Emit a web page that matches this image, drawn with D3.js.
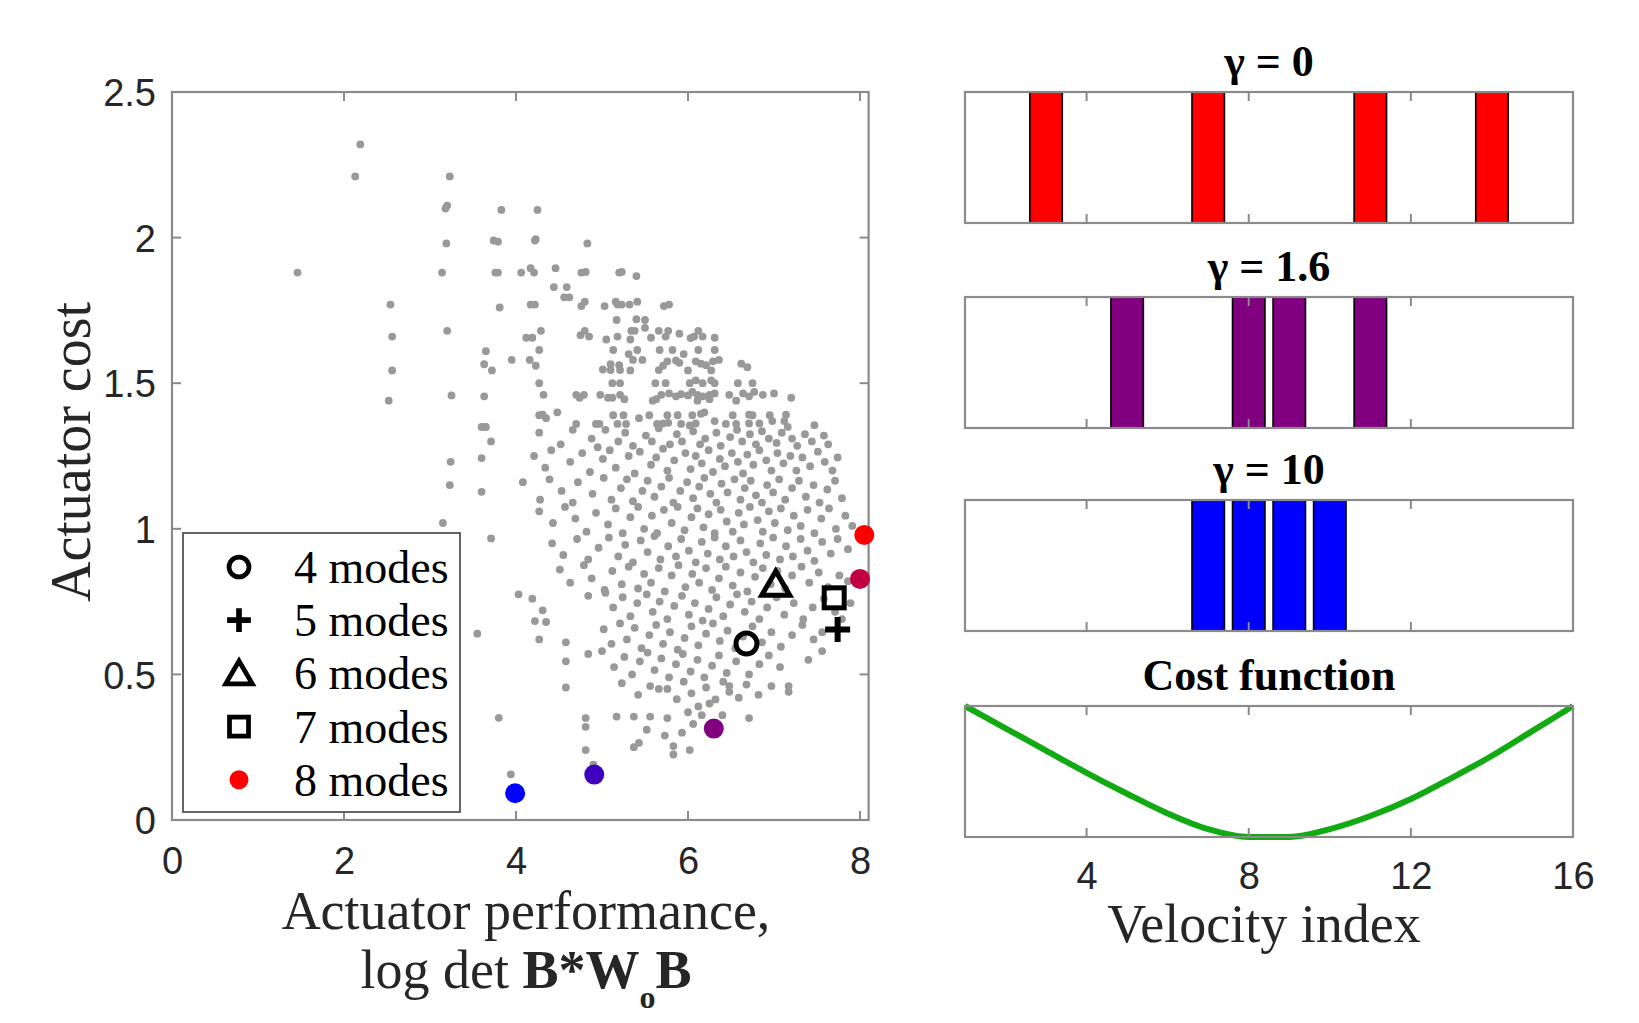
<!DOCTYPE html>
<html><head><meta charset="utf-8">
<script src="https://cdn.jsdelivr.net/npm/d3@7"></script>
<style>body{margin:0;background:#fff}svg{display:block}</style>
</head><body><svg id="c" width="1639" height="1023"></svg>
<script>
// ---------- DATA ----------
const xTicks = [0, 2, 4, 6, 8];
const yTicks = [0, 0.5, 1, 1.5, 2, 2.5];
const scatterUpper = [
[2.19,2.32],[2.13,2.21],[3.23,2.21],[3.18,2.10],[3.20,2.11],[3.19,1.98],[3.74,1.99],[1.46,1.88],[3.14,1.88],[3.76,1.88],[2.54,1.77],[3.20,1.68],[2.56,1.66],[3.65,1.61],[3.63,1.565],[3.72,1.544],[2.56,1.544],[3.25,1.458],[3.63,1.455],[2.52,1.44],[3.60,1.35],[3.65,1.35],
[3.83,2.095],[4.25,2.095],[3.79,1.986],[4.22,1.99],[4.23,1.995],[4.83,1.98],[3.79,1.88],[4.06,1.88],[4.17,1.895],[4.21,1.88],[4.46,1.895],[4.76,1.88],[4.81,1.882],[5.20,1.88],[5.23,1.882],[5.40,1.868],[4.44,1.83],[4.59,1.83],[4.56,1.795],[4.62,1.795],[3.81,1.76],[4.17,1.77],[4.22,1.77],[4.76,1.765],[4.80,1.78],[5.03,1.765],[5.16,1.78],[5.18,1.77],[5.23,1.77],[5.32,1.77],[5.41,1.78],[5.72,1.765],[5.78,1.77],[5.17,1.717],[5.40,1.72],[5.50,1.717],
[4.12,1.656],[4.19,1.656],[4.29,1.68],[4.75,1.665],[4.80,1.68],[4.85,1.66],[5.05,1.65],[5.18,1.66],[5.34,1.68],[5.33,1.65],[5.38,1.68],[5.50,1.69],[5.57,1.656],[5.66,1.68],[5.74,1.66],[5.77,1.68],[5.90,1.67],[6.03,1.655],[6.07,1.66],[6.12,1.68],[6.17,1.66],[6.31,1.656],
[4.27,1.614],[4.16,1.58],[4.23,1.56],[3.95,1.58],[5.13,1.614],[5.31,1.60],[5.41,1.614],[5.67,1.614],[5.82,1.614],[5.95,1.60],[6.12,1.614],[6.31,1.614],[5.01,1.547],[5.10,1.565],[5.20,1.562],[5.10,1.545],[5.21,1.545],[5.33,1.544],[5.36,1.58],[5.47,1.58],[5.66,1.545],[5.71,1.56],[5.76,1.575],[5.86,1.578],[5.90,1.57],[6.00,1.544],[6.09,1.575],[6.15,1.567],[6.21,1.562],[6.29,1.575],[6.36,1.58],[6.27,1.544],[6.62,1.567],[6.69,1.555],
[4.27,1.50],[4.32,1.46],[4.70,1.46],[4.74,1.45],[4.79,1.46],[4.98,1.46],[5.07,1.45],[5.12,1.45],[5.21,1.46],[5.26,1.445],[5.12,1.50],[5.21,1.50],[5.62,1.50],[5.74,1.50],[6.02,1.50],[6.09,1.51],[6.17,1.50],[6.27,1.51],[6.31,1.50],[6.58,1.50],[6.75,1.50],[5.59,1.44],[5.63,1.445],[5.69,1.46],[5.78,1.465],[5.86,1.455],[5.92,1.462],[6.00,1.458],[6.05,1.47],[6.11,1.46],[6.17,1.455],[6.25,1.46],[6.31,1.465],[6.11,1.44],[6.25,1.445],[6.48,1.46],[6.56,1.44],[6.64,1.465],[6.71,1.455],[6.77,1.47],[6.87,1.46],[7.00,1.465],[7.20,1.45],
[4.27,1.39],[4.31,1.392],[4.48,1.40],[5.13,1.39],[5.25,1.39],[5.43,1.38],[5.55,1.39],[5.76,1.39],[5.88,1.39],[6.05,1.39],[6.15,1.395],[6.19,1.40],[6.31,1.37],[6.52,1.39],[6.71,1.392],[6.75,1.39],[6.95,1.39],[7.14,1.392],[7.47,1.356],[4.70,1.36],[4.93,1.36],[4.97,1.36],[5.18,1.36],[5.28,1.36],[5.64,1.36],[5.71,1.362],[5.77,1.364],[5.92,1.36],[6.02,1.355],[6.09,1.362],[6.44,1.36],[6.56,1.36],[6.71,1.362],[6.83,1.362],[6.98,1.37],[7.12,1.37],[7.16,1.35],
[3.71,1.30],[3.24,1.23],[3.60,1.243],[3.60,1.127],[3.15,1.02],[3.71,0.967],[3.23,1.15],[3.64,1.35],[4.35,1.38]
];
const scatterLower = [
[4.27,1.33],[4.52,1.29],[4.66,1.34],[4.88,1.31],[4.95,1.28],[5.04,1.34],[5.19,1.30],[5.27,1.33],[5.36,1.285],[5.51,1.32],[5.58,1.30],[5.66,1.345],[5.79,1.29],[5.87,1.325],[5.93,1.30],[6.06,1.335],[6.14,1.29],[6.20,1.31],[6.33,1.33],[6.38,1.285],[6.49,1.315],[6.57,1.34],[6.63,1.30],[6.72,1.325],[6.79,1.29],[6.86,1.335],[6.94,1.31],[7.03,1.295],[7.09,1.33],[7.21,1.31],[7.27,1.285],[7.36,1.325],[7.44,1.30],[7.58,1.32],[7.63,1.29],
[4.21,1.25],[4.34,1.21],[4.41,1.27],[4.63,1.23],[4.77,1.26],[4.86,1.195],[5.01,1.24],[5.09,1.27],[5.16,1.21],[5.31,1.25],[5.38,1.19],[5.44,1.265],[5.57,1.22],[5.63,1.245],[5.71,1.275],[5.76,1.20],[5.84,1.235],[5.97,1.26],[6.03,1.205],[6.09,1.25],[6.16,1.225],[6.24,1.27],[6.29,1.195],[6.37,1.24],[6.43,1.215],[6.51,1.26],[6.58,1.23],[6.64,1.19],[6.69,1.255],[6.76,1.22],[6.83,1.27],[6.91,1.235],[6.97,1.20],[7.04,1.26],[7.11,1.225],[7.19,1.25],[7.26,1.20],[7.33,1.245],[7.42,1.215],[7.51,1.265],[7.59,1.23],[7.68,1.20],[7.74,1.245],
[4.08,1.16],[4.28,1.10],[4.39,1.17],[4.53,1.13],[4.66,1.09],[4.72,1.16],[4.89,1.12],[5.02,1.175],[5.11,1.10],[5.22,1.14],[5.29,1.17],[5.36,1.095],[5.47,1.13],[5.53,1.165],[5.61,1.11],[5.69,1.145],[5.78,1.175],[5.83,1.09],[5.91,1.13],[5.99,1.16],[6.06,1.105],[6.13,1.145],[6.19,1.175],[6.26,1.12],[6.33,1.09],[6.39,1.155],[6.46,1.125],[6.54,1.17],[6.61,1.10],[6.66,1.14],[6.73,1.165],[6.79,1.115],[6.86,1.09],[6.92,1.15],[6.99,1.125],[7.06,1.17],[7.13,1.10],[7.21,1.14],[7.29,1.165],[7.37,1.11],[7.46,1.15],[7.53,1.09],[7.62,1.135],[7.71,1.165],[7.79,1.105],
[4.27,1.06],[4.43,1.02],[4.57,1.075],[4.69,1.035],[4.82,0.99],[4.93,1.055],[5.07,1.015],[5.16,1.07],[5.24,0.985],[5.33,1.04],[5.42,1.075],[5.49,1.00],[5.58,1.045],[5.64,0.985],[5.72,1.065],[5.81,1.02],[5.88,1.075],[5.96,0.995],[6.04,1.04],[6.11,1.07],[6.18,1.005],[6.24,1.05],[6.31,0.985],[6.38,1.065],[6.45,1.025],[6.52,0.99],[6.59,1.055],[6.65,1.015],[6.72,1.075],[6.81,1.03],[6.87,0.99],[6.94,1.06],[7.01,1.02],[7.08,1.07],[7.16,0.995],[7.23,1.045],[7.31,1.01],[7.39,1.065],[7.47,0.985],[7.55,1.035],[7.64,1.07],[7.72,1.00],[7.83,1.045],[7.91,1.01],
[4.42,0.95],[4.55,0.91],[4.71,0.965],[4.84,0.895],[4.96,0.935],[5.08,0.97],[5.19,0.905],[5.27,0.945],[5.36,0.885],[5.45,0.96],[5.53,0.92],[5.61,0.975],[5.68,0.895],[5.77,0.94],[5.86,0.905],[5.92,0.965],[6.01,0.925],[6.09,0.885],[6.16,0.955],[6.23,0.915],[6.31,0.97],[6.37,0.895],[6.44,0.94],[6.53,0.905],[6.61,0.96],[6.68,0.92],[6.76,0.885],[6.84,0.95],[6.91,0.91],[6.99,0.97],[7.07,0.895],[7.14,0.94],[7.22,0.905],[7.31,0.965],[7.39,0.925],[7.47,0.89],[7.56,0.955],[7.66,0.915],[7.74,0.965],[7.86,0.93],
[4.51,0.86],[4.63,0.815],[4.79,0.875],[4.88,0.83],[5.03,0.79],[5.12,0.855],[5.23,0.81],[5.31,0.87],[5.42,0.795],[5.49,0.845],[5.57,0.815],[5.66,0.865],[5.73,0.785],[5.81,0.84],[5.89,0.875],[5.97,0.80],[6.05,0.845],[6.13,0.815],[6.21,0.865],[6.28,0.79],[6.36,0.83],[6.44,0.87],[6.52,0.805],[6.61,0.85],[6.69,0.785],[6.78,0.835],[6.87,0.865],[6.96,0.81],[7.04,0.855],[7.13,0.795],[7.21,0.84],[7.32,0.87],[7.41,0.815],[7.52,0.85],[7.63,0.80],[7.76,0.84],[7.86,0.82],
[4.03,0.775],[4.19,0.76],[4.31,0.72],[4.84,0.77],[5.04,0.78],[5.13,0.73],[5.24,0.765],[5.33,0.70],[5.41,0.745],[5.52,0.775],[5.59,0.715],[5.67,0.75],[5.76,0.69],[5.84,0.735],[5.93,0.77],[6.01,0.705],[6.08,0.745],[6.17,0.685],[6.24,0.725],[6.33,0.765],[6.41,0.70],[6.49,0.74],[6.57,0.775],[6.66,0.715],[6.74,0.75],[6.83,0.69],[6.92,0.73],[7.03,0.765],[7.12,0.705],[7.23,0.745],[7.34,0.69],[7.45,0.73],[7.58,0.76],[7.71,0.715],[7.89,0.745],
[3.55,0.64],[4.22,0.683],[4.35,0.68],[4.27,0.62],[4.58,0.61],[5.02,0.655],[5.11,0.605],[5.21,0.675],[5.29,0.62],[5.38,0.66],[5.46,0.59],[5.55,0.635],[5.63,0.67],[5.71,0.605],[5.79,0.645],[5.88,0.585],[5.96,0.625],[6.04,0.665],[6.12,0.60],[6.21,0.64],[6.29,0.675],[6.37,0.615],[6.46,0.65],[6.55,0.59],[6.64,0.63],[6.75,0.665],[6.86,0.61],[6.97,0.645],[7.08,0.595],[7.21,0.635],[7.33,0.67],[7.46,0.62],[7.56,0.645],[7.79,0.69],
[4.58,0.545],[4.84,0.57],[5.00,0.58],[5.14,0.525],[5.26,0.56],[5.35,0.50],[5.44,0.545],[5.53,0.575],[5.61,0.515],[5.69,0.555],[5.78,0.49],[5.86,0.535],[5.94,0.57],[6.03,0.51],[6.11,0.55],[6.19,0.49],[6.28,0.53],[6.36,0.565],[6.45,0.505],[6.56,0.545],[6.71,0.50],[6.83,0.535],[6.94,0.565],[7.07,0.525],[7.40,0.55],[7.56,0.58],
[4.58,0.455],[5.23,0.47],[5.42,0.43],[5.56,0.46],[5.66,0.45],[5.76,0.45],[5.87,0.415],[5.95,0.475],[6.04,0.435],[6.12,0.39],[6.21,0.455],[6.25,0.40],[6.32,0.414],[6.41,0.475],[6.48,0.44],[6.48,0.46],[6.59,0.42],[6.68,0.465],[6.82,0.43],[6.97,0.46],[7.17,0.44],[7.17,0.46],
[3.80,0.351],[4.81,0.35],[4.81,0.32],[4.81,0.24],[4.90,0.19],[5.17,0.355],[5.37,0.355],[5.37,0.25],[5.43,0.265],[5.56,0.355],[5.73,0.29],[5.76,0.35],[5.83,0.254],[5.83,0.225],[5.93,0.30],[6.00,0.37],[6.06,0.33],[6.16,0.36],[6.40,0.36],[6.71,0.35],[3.94,0.157],[5.52,0.31],[6.02,0.24]
];
// coloured optimal points (8 actuators, gamma from 10 down to 0)
const optX = [3.99, 4.91, 6.30, 8.00, 8.05];
const optY = [0.092, 0.156, 0.314, 0.828, 0.979];
// reduced-mode optima
const modeNames = ["circle", "plus", "triangle", "square"];
const modeX = [6.68, 7.74, 7.02, 7.70];
const modeY = [0.606, 0.654, 0.81, 0.763];
const legendLabels = ["4 modes", "5 modes", "6 modes", "7 modes", "8 modes"];
// right panels
const panelTitles = ["\u03b3 = 0", "\u03b3 = 1.6", "\u03b3 = 10", "Cost function"];
const sensors0 = [3, 7, 11, 14];
const sensors16 = [5, 8, 9, 11];
const sensors10 = [7, 8, 9, 10];
const velIndex = [1,2,3,4,5,6,7,8,9,10,11,12,13,14,15,16];
const costValues = [1.0,0.83,0.66,0.49,0.33,0.18,0.06,0.0,0.0,0.06,0.16,0.29,0.45,0.62,0.81,1.0];
const velTicks = [4, 8, 12, 16];

// ---------- STYLES ----------
const optColors = ["#0000ff", "#4000c0", "#800080", "#c00040", "#ff0000"];
const barColors = ["#ff0000", "#800080", "#0000ff"];
const axisCol = "#8a8a8a", textCol = "#262626";
const sans = "'Liberation Sans', Arial, sans-serif", serif = "'Liberation Serif', 'Times New Roman', serif";

const svg = d3.select("#c");
svg.append("rect").attr("width",1639).attr("height",1023).attr("fill","#fff");

// ---------- LEFT SCATTER ----------
const x = d3.scaleLinear().domain([0, 8.1]).range([172, 868.6]);
const y = d3.scaleLinear().domain([0, 2.5]).range([820, 92]);
const L = svg.append("g");
L.append("g").selectAll("circle").data(scatterUpper.concat(scatterLower)).join("circle")
  .attr("cx", d => x(d[0])).attr("cy", d => y(d[1])).attr("r", 3.9).attr("fill", "#999");

function boxAxes(g, xs, ys, xt, yt, tl) {
  const [x0, x1] = xs.range(), [y0, y1] = ys.range();
  g.append("rect").attr("x", x0).attr("y", y1).attr("width", x1 - x0).attr("height", y0 - y1)
    .attr("fill", "none").attr("stroke", axisCol).attr("stroke-width", 2.2);
  xt.forEach(t => {
    const px = xs(t);
    g.append("line").attr("x1", px).attr("x2", px).attr("y1", y0).attr("y2", y0 - tl).attr("stroke", axisCol).attr("stroke-width", 2);
    g.append("line").attr("x1", px).attr("x2", px).attr("y1", y1).attr("y2", y1 + tl).attr("stroke", axisCol).attr("stroke-width", 2);
  });
  yt.forEach(t => {
    const py = ys(t);
    g.append("line").attr("x1", x0).attr("x2", x0 + tl).attr("y1", py).attr("y2", py).attr("stroke", axisCol).attr("stroke-width", 2);
    g.append("line").attr("x1", x1).attr("x2", x1 - tl).attr("y1", py).attr("y2", py).attr("stroke", axisCol).attr("stroke-width", 2);
  });
}
boxAxes(L, x, y, xTicks, yTicks, 9);

const xa = L.append("g").attr("transform", "translate(0,820)").call(d3.axisBottom(x).tickValues(xTicks).tickSize(0).tickFormat(d3.format("d")));
const ya = L.append("g").attr("transform", "translate(172,0)").call(d3.axisLeft(y).tickValues(yTicks).tickSize(0).tickPadding(16).tickFormat(d => d === 0 ? "0" : (d % 1 ? d3.format(".1f")(d) : d3.format("d")(d))));
[xa, ya].forEach(a => { a.select(".domain").remove(); a.selectAll("text").attr("font-family", sans).attr("font-size", 38).attr("fill", textCol); });
xa.selectAll("text").attr("dy", 0).attr("y", 54);
ya.selectAll("text").attr("dy", "0.36em");

L.append("g").selectAll("circle").data(optX).join("circle")
  .attr("cx", d => x(d)).attr("cy", (d, i) => y(optY[i])).attr("r", 10).attr("fill", (d, i) => optColors[i]);

function marker(g, type, cx, cy, s) {
  let el;
  if (type === "circle") el = g.append("circle").attr("cx", cx).attr("cy", cy).attr("r", 10.5 * s).attr("stroke-width", 5 * s);
  else if (type === "plus") el = g.append("path").attr("d", `M${cx - 12.5 * s},${cy}H${cx + 12.5 * s}M${cx},${cy - 12.5 * s}V${cy + 12.5 * s}`).attr("stroke-width", 6 * s);
  else if (type === "triangle") el = g.append("path").attr("d", `M${cx},${cy - 13 * s}L${cx + 14 * s},${cy + 11 * s}L${cx - 14 * s},${cy + 11 * s}Z`).attr("stroke-width", 5 * s).attr("stroke-linejoin", "miter");
  else if (type === "square") el = g.append("rect").attr("x", cx - 10 * s).attr("y", cy - 10 * s).attr("width", 20 * s).attr("height", 20 * s).attr("stroke-width", 5 * s);
  el.attr("fill", "none").attr("stroke", "#000");
}
modeNames.forEach((m, i) => marker(L, m, x(modeX[i]), y(modeY[i]), 1));

// legend
const lg = L.append("g");
lg.append("rect").attr("x", 183).attr("y", 533).attr("width", 277).attr("height", 279)
  .attr("fill", "#fff").attr("stroke", "#555").attr("stroke-width", 1.8);
legendLabels.forEach((lab, i) => {
  const cy = 567 + i * 53.2;
  if (i < 4) marker(lg, modeNames[i], 239, cy, 0.95);
  else lg.append("circle").attr("cx", 239).attr("cy", cy).attr("r", 9.5).attr("fill", optColors[4]);
  lg.append("text").attr("x", 294).attr("y", cy + 16).text(lab)
    .attr("font-family", serif).attr("font-size", 46).attr("fill", "#000");
});

// axis labels
L.append("text").attr("transform", "translate(90,452) rotate(-90)").attr("text-anchor", "middle")
  .attr("font-family", serif).attr("font-size", 56).attr("fill", textCol).text("Actuator cost");
L.append("text").attr("x", 526).attr("y", 929).attr("text-anchor", "middle")
  .attr("font-family", serif).attr("font-size", 54).attr("fill", textCol).text("Actuator performance,");
const t2 = L.append("text").attr("x", 526).attr("y", 988).attr("text-anchor", "middle")
  .attr("font-family", serif).attr("font-size", 54).attr("fill", textCol);
t2.append("tspan").text("log det ");
t2.append("tspan").attr("font-weight", "bold").text("B*W");
t2.append("tspan").attr("font-weight", "bold").attr("font-size", 32).attr("dy", 20).text("o");
t2.append("tspan").attr("font-weight", "bold").attr("dy", -20).text("B");

// ---------- RIGHT PANELS ----------
const vx = d3.scaleLinear().domain([1, 16]).range([965, 1573]);
const tops = [92, 297, 500, 706], ph = 131;
const sensorSets = [sensors0, sensors16, sensors10];
tops.forEach((top, p) => {
  const g = svg.append("g");
  const py = d3.scaleLinear().domain([0, 1]).range([top + ph, top]);
  if (p < 3) {
    g.selectAll("rect.bar").data(sensorSets[p]).join("rect").attr("class", "bar")
      .attr("x", d => vx(d - 0.4)).attr("width", vx(1.8) - vx(1)).attr("y", top).attr("height", ph)
      .attr("fill", barColors[p]).attr("stroke", "#000").attr("stroke-width", 1.6);
  } else {
    const line = d3.line().x((d, i) => vx(velIndex[i])).y(d => py(d)).curve(d3.curveMonotoneX);
    g.append("path").attr("d", line(costValues)).attr("fill", "none").attr("stroke", "#12aa12").attr("stroke-width", 6);
  }
  boxAxes(g, vx, py, [4, 8, 12], [], 9);
  g.append("text").attr("x", (vx(1) + vx(16)) / 2).attr("y", top - 16).attr("text-anchor", "middle")
    .attr("font-family", serif).attr("font-weight", "bold").attr("font-size", 44).attr("fill", "#000").text(panelTitles[p]);
});
const va = svg.append("g").attr("transform", `translate(0,${tops[3] + ph})`)
  .call(d3.axisBottom(vx).tickValues(velTicks).tickSize(0).tickFormat(d3.format("d")));
va.select(".domain").remove();
va.selectAll("text").attr("font-family", sans).attr("font-size", 38).attr("fill", textCol).attr("dy", 0).attr("y", 52);
svg.append("text").attr("x", 1264).attr("y", 942).attr("text-anchor", "middle")
  .attr("font-family", serif).attr("font-size", 54).attr("fill", textCol).text("Velocity index");
</script></body></html>
